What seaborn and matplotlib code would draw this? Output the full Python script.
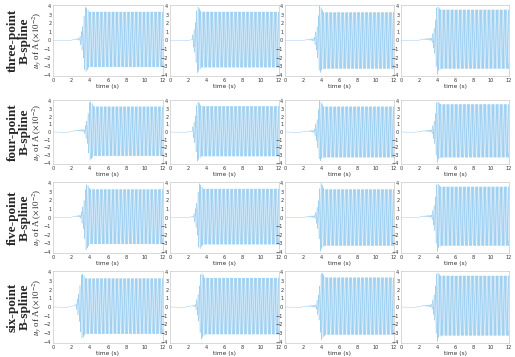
import numpy as np
import pandas as pd
import seaborn as sns
import matplotlib
matplotlib.use("Agg")
import matplotlib.pyplot as plt

# row / column labels
row_names = ["three-point\nB-spline", "four-point\nB-spline",
             "five-point\nB-spline", "six-point\nB-spline"]
x_ticks = [0, 2, 4, 6, 8, 10, 12]
y_ticks = [-4, -3, -2, -1, 0, 1, 2, 3, 4]

# values, one entry per panel (rows x columns)
burst_time = [[3.5, 3.0, 3.8, 4.0],
              [4.0, 3.0, 3.8, 4.0],
              [3.6, 3.2, 3.9, 4.0],
              [3.1, 3.4, 4.0, 4.0]]
burst_top = [[3.9, 4.0, 4.1, 4.1],
             [4.1, 4.0, 4.1, 4.1],
             [3.9, 4.0, 4.1, 4.1],
             [3.8, 3.9, 4.1, 4.1]]
burst_bottom = [[3.8, 3.8, 4.0, 4.1],
                [3.6, 3.8, 4.0, 4.1],
                [3.8, 3.8, 4.0, 4.1],
                [3.6, 3.8, 3.9, 4.1]]
steady_top = [[3.35, 3.35, 3.3, 3.6],
              [3.3, 3.35, 3.3, 3.6],
              [3.3, 3.35, 3.3, 3.6],
              [3.3, 3.35, 3.4, 3.6]]
steady_bottom = [[3.1, 3.15, 3.3, 3.3],
                 [3.1, 3.15, 3.3, 3.3],
                 [3.1, 3.15, 3.3, 3.3],
                 [3.1, 3.15, 3.2, 3.3]]
drift = [[0.15, 0.1, 0.1, 0.15],
         [0.2, 0.1, 0.1, 0.15],
         [0.15, 0.1, 0.1, 0.15],
         [0.2, 0.15, 0.1, 0.15]]
carrier_hz = 6.8

sns.set_style("white")
plt.rcParams["font.family"] = ["Liberation Serif", "DejaVu Serif"]
plt.rcParams["mathtext.fontset"] = "stix"

W, H = 515, 357
fig = plt.figure(figsize=(W / 100, H / 100), dpi=100)

col_px = [(53, 163), (170, 279), (285, 394), (401, 509)]
row_px = [(5, 76), (100, 164), (182, 253), (271, 343)]

t = np.linspace(0, 12, 12 * 70 * 4 + 1)
line_color = "#78bdec"

for r in range(4):
    for c in range(4):
        x0, x1 = col_px[c]
        y0, y1 = row_px[r]
        ax = fig.add_axes([x0 / W, 1 - y1 / H, (x1 - x0) / W, (y1 - y0) / H])

        tb = burst_time[r][c]
        # envelope knots: quiet start, slow drift, growth, burst, steady state
        kt = [0, 1.5, 2.5, tb - 0.6, tb - 0.25, tb, tb + 0.2, tb + 0.45, 12]
        mid = np.interp(t, kt, [0, -0.05, drift[r][c], drift[r][c], 0.1, 0, 0, 0, 0])
        up = np.interp(t, kt, [0, 0, 0.03, 0.15, 1.6, burst_top[r][c],
                               3.8, steady_top[r][c], steady_top[r][c]])
        lo = np.interp(t, kt, [0, 0, 0.03, 0.15, 1.6, burst_bottom[r][c],
                               3.5, steady_bottom[r][c], steady_bottom[r][c]])
        wave = np.cos(2 * np.pi * carrier_hz * t)
        y = mid + np.where(wave > 0, up, lo) * wave
        df = pd.DataFrame({"t": t, "y": y})
        sns.lineplot(data=df, x="t", y="y", ax=ax, estimator=None, sort=False,
                     color=line_color, lw=0.25)

        ax.set_xlim(0, 12)
        ax.set_ylim(-4.15, 4.15)
        ax.set_xticks(x_ticks)
        ax.set_yticks(y_ticks)
        ax.tick_params(labelsize=3.6, length=1.2, width=0.3, pad=1.2,
                       direction="in", colors="#333333", labelfontfamily="DejaVu Sans")
        for s in ax.spines.values():
            s.set_linewidth(0.4)
            s.set_color("#bbbbbb")
        ax.set_xlabel("time (s)", fontsize=4.2, labelpad=0.8, family="DejaVu Sans",
                      color="#333333")
        if c == 0:
            ax.set_ylabel(r"$u_y$ of A ($\times10^{-2}$)", fontsize=6.3)
            ax.yaxis.set_label_coords(-0.078, 0.5)
        else:
            ax.set_ylabel("")

    yc = (row_px[r][0] + row_px[r][1]) / 2
    fig.text(19 / W, 1 - yc / H, row_names[r], rotation=90, ha="center",
             va="center", fontsize=9.5, fontweight="bold", multialignment="center",
             linespacing=1.05)

fig.savefig("out.png", dpi=100)
